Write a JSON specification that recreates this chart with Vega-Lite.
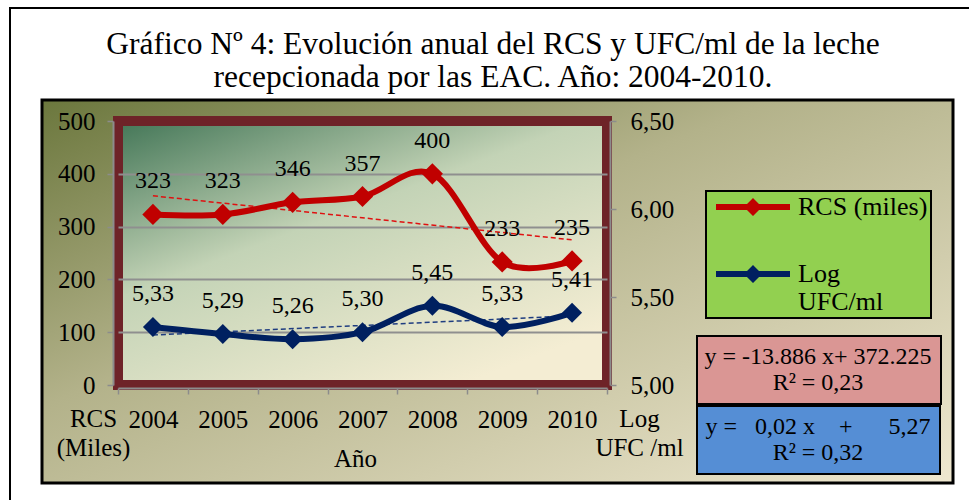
{
  "$schema": "https://vega.github.io/schema/vega-lite/v6.json",
  "background": "white",
  "padding": {"left": 9, "top": 7, "right": 0, "bottom": 0},
  "config": {
    "font": "Liberation Serif",
    "locale": {"number": {"decimal": ",", "thousands": ".", "grouping": [3], "currency": ["", ""]}},
    "axis": {"labelFont": "Liberation Serif", "labelFontSize": 25, "labelColor": "#000", "titleFont": "Liberation Serif", "titleFontSize": 25, "titleFontWeight": "normal", "titleColor": "#000"},
    "legend": {"labelFont": "Liberation Serif", "labelColor": "#000", "strokeWidth": 2},
    "text": {"font": "Liberation Serif"}
  },
  "title": {
    "text": ["Gráfico Nº 4: Evolución anual del RCS y UFC/ml de la leche", "recepcionada por las EAC. Año: 2004-2010."],
    "font": "Liberation Serif", "fontSize": 31.5, "fontWeight": "normal", "color": "#000",
    "lineHeight": 33, "anchor": "start", "align": "center", "dx": 483, "frame": "group", "offset": -86
  },
  "datasets": {
    "series": [
      {"year": "2004", "rcs": 323, "ufc": 5.33},
      {"year": "2005", "rcs": 323, "ufc": 5.29},
      {"year": "2006", "rcs": 346, "ufc": 5.26},
      {"year": "2007", "rcs": 357, "ufc": 5.30},
      {"year": "2008", "rcs": 400, "ufc": 5.45},
      {"year": "2009", "rcs": 233, "ufc": 5.33},
      {"year": "2010", "rcs": 235, "ufc": 5.41}
    ],
    "trend": [
      {"year": "2004", "rcs": 358.3, "ufc": 5.284},
      {"year": "2010", "rcs": 275.0, "ufc": 5.393}
    ],
    "empty": []
  },
  "concat": [
    {"width": 962, "height": 500, "data": {"name": "empty"}, "mark": "point", "view": {"fill": null, "stroke": "#000", "strokeWidth": 2}},
    {"width": 1, "height": 1, "data": {"name": "empty"}, "mark": "point", "view": {"stroke": null, "fill": null}},
    {"width": 1, "height": 1, "data": {"name": "empty"}, "mark": "point", "view": {"stroke": null, "fill": null}},
    {"width": 1, "height": 1, "data": {"name": "empty"}, "mark": "point", "view": {"stroke": null, "fill": null}},
    {
      "width": 911, "height": 383,
      "data": {"name": "empty"},
      "mark": "point",
      "view": {
        "fill": {"gradient": "linear", "x1": 0, "y1": 0, "x2": 1, "y2": 1, "stops": [{"offset": 0, "color": "#6b773d"}, {"offset": 0.4, "color": "#b3b28a"}, {"offset": 1, "color": "#efe8d0"}]},
        "stroke": "#000", "strokeWidth": 3
      }
    },
    {"width": 1, "height": 429, "data": {"name": "empty"}, "mark": "point", "view": {"stroke": null, "fill": null}},
    {"width": 1, "height": 1, "data": {"name": "empty"}, "mark": "point", "view": {"stroke": null, "fill": null}},
    {"width": 1006, "height": 1, "data": {"name": "empty"}, "mark": "point", "view": {"stroke": null, "fill": null}},
    {
      "width": 489, "height": 264,
      "view": {
        "fill": {"gradient": "linear", "x1": 0, "y1": 0, "x2": 0.7, "y2": 1, "stops": [{"offset": 0, "color": "#437657"}, {"offset": 0.45, "color": "#c3d3b6"}, {"offset": 1, "color": "#f4edd3"}]},
        "stroke": "#6e2328", "strokeWidth": 10
      },
      "encoding": {
        "x": {
          "field": "year", "type": "ordinal",
          "scale": {"type": "band", "paddingInner": 0, "paddingOuter": 0, "domain": ["2004", "2005", "2006", "2007", "2008", "2009", "2010"]},
          "axis": {"orient": "bottom", "title": "Año", "labelAngle": 0, "labelFont": "Liberation Serif", "titleFont": "Liberation Serif", "tickBand": "extent", "tickSize": 6, "tickColor": "#8c8c8c", "tickWidth": 1.5, "domainColor": "#8c8c8c", "domainWidth": 2, "labelPadding": 13, "offset": 3, "titleX": 237, "titleY": 78, "titleBaseline": "alphabetic", "titleAlign": "center", "grid": false}
        }
      },
      "layer": [
        {
          "encoding": {
            "y": {
              "field": "rcs", "type": "quantitative",
              "scale": {"domain": [0, 500], "nice": false},
              "axis": {"orient": "left", "values": [0, 100, 200, 300, 400, 500], "title": ["RCS", "(Miles)"], "labelFont": "Liberation Serif", "titleFont": "Liberation Serif", "titleAngle": 0, "titleAlign": "center", "titleBaseline": "alphabetic", "titleX": -20, "titleY": 305, "titleLineHeight": 29, "offset": 5, "tickSize": 6, "tickColor": "#8c8c8c", "tickWidth": 1.5, "domainColor": "#8c8c8c", "domainWidth": 2, "labelPadding": 12, "grid": true, "gridColor": {"condition": {"test": "datum.value === 0 || datum.value === 500", "value": "transparent"}, "value": "#8f8f8f"}, "gridWidth": 2}
            }
          },
          "layer": [
            {"data": {"name": "trend"}, "mark": {"type": "line", "color": "#e01010", "strokeWidth": 1.5, "strokeDash": [5, 3]}},
            {"data": {"name": "series"}, "mark": {"type": "line", "color": "#c00000", "strokeWidth": 6, "interpolate": "cardinal", "tension": 0}},
            {
              "data": {"name": "series"},
              "mark": {"type": "point", "shape": "diamond", "filled": true, "size": 450, "opacity": 1, "strokeWidth": 0},
              "encoding": {
                "fill": {
                  "datum": "RCS (miles)",
                  "scale": {"domain": ["RCS (miles)", "Log UFC/ml"], "range": ["#c00000", "#002060"]},
                  "legend": {"orient": "none", "legendX": 696, "legendY": 183, "title": null, "fillColor": "#92d050", "strokeColor": "#000", "padding": 3, "symbolType": "M-0.6,-0.3L6.8,-0.3L6.8,0.3L-0.6,0.3Z M3.1,-0.9L4,0L3.1,0.9L2.2,0Z", "symbolSize": 400, "symbolStrokeWidth": 0, "labelOffset": 63, "labelFont": "Liberation Serif", "labelFontSize": 26, "labelLimit": 300, "rowPadding": 41, "labelExpr": "datum.label == 'Log UFC/ml' ? ['\u00a0Log', 'UFC/ml'] : datum.label"}
                }
              }
            },
            {"data": {"name": "series"}, "mark": {"type": "text", "dy": -33, "fontSize": 24, "font": "Liberation Serif", "color": "#000"}, "encoding": {"text": {"field": "rcs", "type": "quantitative"}}},
            {
              "data": {"name": "trend"},
              "mark": {"type": "point", "opacity": 0},
              "encoding": {
                "stroke": {"datum": "eq1", "legend": {"orient": "none", "legendX": 687, "legendY": 328, "title": null, "fillColor": "#da9694", "strokeColor": "#000", "padding": 9, "symbolSize": 0, "symbolOpacity": 0, "labelOffset": 88, "labelAlign": "center", "labelFont": "Liberation Serif", "labelFontSize": 24, "labelLimit": 400, "labelExpr": "['y = -13.886 x+ 372.225', 'R² = 0,23']"}},
                "shape": {"datum": "eq2", "legend": {"orient": "none", "legendX": 687, "legendY": 398, "title": null, "fillColor": "#558ed5", "strokeColor": "#000", "padding": 9, "symbolSize": 0, "symbolOpacity": 0, "labelOffset": 88, "labelAlign": "center", "labelFont": "Liberation Serif", "labelFontSize": 24, "labelLimit": 400, "labelExpr": "['y =\u00a0\u00a0\u00a00,02 x\u00a0\u00a0\u00a0\u00a0+\u00a0\u00a0\u00a0\u00a0\u00a0\u00a05,27', 'R² = 0,32']"}}
              }
            }
          ]
        },
        {
          "encoding": {
            "y": {
              "field": "ufc", "type": "quantitative",
              "scale": {"domain": [5, 6.5], "nice": false, "zero": false},
              "axis": {"orient": "right", "values": [5, 5.5, 6, 6.5], "format": ".2f", "title": ["Log", "UFC /ml"], "labelFont": "Liberation Serif", "titleFont": "Liberation Serif", "titleAngle": 0, "titleAlign": "center", "titleBaseline": "alphabetic", "titleX": 29, "titleY": 305, "titleLineHeight": 29, "offset": 3, "tickSize": 6, "tickColor": "#8c8c8c", "tickWidth": 1.5, "domainColor": "#8c8c8c", "domainWidth": 2, "labelPadding": 14, "grid": false}
            }
          },
          "layer": [
            {"data": {"name": "trend"}, "mark": {"type": "line", "color": "#1f3d80", "strokeWidth": 1.5, "strokeDash": [5, 3]}},
            {"data": {"name": "series"}, "mark": {"type": "line", "color": "#002060", "strokeWidth": 6, "interpolate": "cardinal", "tension": 0}},
            {
              "data": {"name": "series"},
              "mark": {"type": "point", "shape": "diamond", "filled": true, "size": 400, "opacity": 1, "strokeWidth": 0},
              "encoding": {"fill": {"datum": "Log UFC/ml"}}
            },
            {"data": {"name": "series"}, "mark": {"type": "text", "dy": -33, "fontSize": 24, "font": "Liberation Serif", "color": "#000"}, "encoding": {"text": {"field": "ufc", "type": "quantitative", "format": ".2f"}}}
          ]
        }
      ],
      "resolve": {"scale": {"y": "independent"}}
    }
  ],
  "columns": 3,
  "align": "none",
  "bounds": "flush",
  "spacing": {"row": -408, "column": -930}
}
